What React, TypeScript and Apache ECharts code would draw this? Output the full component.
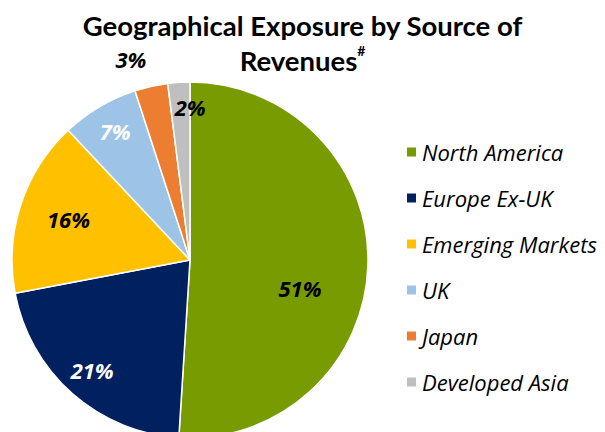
import React, { useEffect, useRef } from "react";
import * as echarts from "echarts";

const categories = ["North America", "Europe Ex-UK", "Emerging Markets", "UK", "Japan", "Developed Asia"];
const values = [51, 21, 16, 7, 3, 2];
const colors = ["#779B00", "#002060", "#FFC000", "#9DC3E6", "#ED7D31", "#BFBFBF"];
const labelColors = ["#000000", "#FFFFFF", "#000000", "#FFFFFF", "#000000", "#000000"];
const labelOffsets: [number, number][] = [[18, 25], [-37, 41], [-34, -13], [-28, -50], [-39, -111], [6, -61]];

const TITLE_FONT = "Lato, 'Noto Sans', sans-serif";
const FONT = "'Open Sans', 'Noto Sans', sans-serif";

export default function App() {
  const ref = useRef<HTMLDivElement>(null);
  useEffect(() => {
    document.body.style.margin = "0";
    if (!ref.current) return;
    const chart = echarts.init(ref.current, undefined, { renderer: "svg" });
    chart.setOption({
      animation: false,
      backgroundColor: "#FFFFFF",
      title: {
        text: "Geographical Exposure by Source of\nRevenues{sup|#}",
        left: "center",
        top: 8,
        padding: 0,
        textStyle: {
          fontFamily: TITLE_FONT,
          fontWeight: "bold",
          fontSize: 27.5,
          color: "#000000",
          lineHeight: 35,
          rich: {
            sup: { fontFamily: TITLE_FONT, fontWeight: "bold", fontSize: 14, color: "#000000", verticalAlign: "top", lineHeight: 35, padding: [0, 0, 12, 0] },
          },
        },
      },
      legend: {
        orient: "vertical",
        left: 405,
        top: 141,
        padding: 0,
        itemWidth: 11,
        itemHeight: 11,
        itemGap: 24,
        icon: "rect",
        data: categories,
        textStyle: { fontFamily: FONT, fontStyle: "italic", fontSize: 22, color: "#000000", lineHeight: 22, padding: [0, 0, 0, 0] },
      },
      series: [
        {
          type: "pie",
          center: [190, 260],
          radius: 178,
          startAngle: 90,
          clockwise: true,
          avoidLabelOverlap: false,
          itemStyle: { borderColor: "#FFFFFF", borderWidth: 1.5 },
          label: {
            show: true,
            position: "inside",
            formatter: "{c}%",
            fontFamily: FONT,
            fontStyle: "italic",
            fontWeight: "bold",
            fontSize: 22,
          },
          labelLine: { show: false },
          emphasis: { disabled: true },
          data: categories.map((name, i) => ({
            name,
            value: values[i],
            itemStyle: { color: colors[i] },
            label: { color: labelColors[i], offset: labelOffsets[i] },
          })),
        },
      ],
    });
    return () => chart.dispose();
  }, []);
  return <div ref={ref} style={{ width: 605, height: 432 }} />;
}
